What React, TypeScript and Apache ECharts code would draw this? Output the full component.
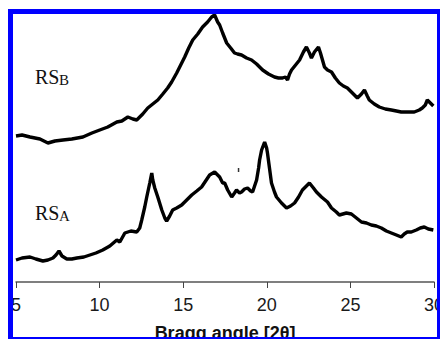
import React, { useEffect, useRef } from "react";
import * as echarts from "echarts";

// 2θ positions (degrees) and intensities (a.u.)
const angleB = [5.00,5.36,5.84,6.43,6.91,7.33,7.81,8.34,9.00,9.54,10.01,10.49,11.03,11.33,11.69,11.99,12.22,12.58,12.88,13.18,13.48,13.78,14.07,14.31,14.61,14.85,15.09,15.33,15.57,15.87,16.16,16.46,16.70,16.88,17.06,17.18,17.36,17.60,17.84,18.07,18.25,18.49,18.79,19.09,19.39,19.75,20.10,20.46,20.70,20.94,21.12,21.24,21.36,21.48,21.72,21.96,22.19,22.37,22.55,22.67,22.85,23.09,23.21,23.33,23.45,23.63,23.87,24.10,24.34,24.58,24.82,25.12,25.42,25.66,25.84,26.01,26.13,26.43,26.73,27.09,27.45,27.75,28.04,28.40,28.82,29.12,29.30,29.48,29.60,29.78,29.96];
const intensityB = [146,147,145,143,139,141,142,143,145,149,152,155,160,161,165,163,162,168,174,178,182,188,194,200,209,217,225,234,242,248,255,260,265,267,260,257,249,239,234,229,228,227,224,222,218,212,208,205,204,204,205,202,208,212,217,222,230,235,229,224,230,235,229,222,215,212,210,204,199,196,194,189,184,188,192,186,182,178,175,173,172,171,170,170,170,172,174,177,182,179,176];

const angleA = [5.00,5.36,5.84,6.19,6.61,6.91,7.21,7.39,7.57,7.75,8.04,8.34,8.64,9.06,9.42,9.78,10.19,10.61,11.03,11.21,11.51,11.87,12.22,12.40,12.52,12.70,12.82,13.00,13.12,13.18,13.30,13.48,13.72,13.90,14.01,14.19,14.37,14.61,14.91,15.21,15.51,15.81,16.10,16.34,16.58,16.88,17.06,17.18,17.36,17.48,17.66,17.90,18.07,18.19,18.37,18.49,18.67,18.85,19.03,19.15,19.27,19.39,19.51,19.57,19.69,19.87,19.99,20.04,20.16,20.28,20.46,20.58,20.88,21.18,21.42,21.66,21.90,22.13,22.37,22.55,22.79,22.97,23.27,23.63,23.87,24.16,24.34,24.76,25.06,25.36,25.66,25.96,26.25,26.55,26.85,27.15,27.45,27.75,28.04,28.22,28.40,28.64,28.94,29.18,29.42,29.66,29.96];
const intensityA = [22,24,25,23,21,22,24,27,31,26,23,23,24,25,27,29,32,36,42,40,49,51,50,54,62,75,85,99,109,102,94,85,72,64,61,66,72,74,77,82,87,91,95,101,107,110,107,105,99,99,92,85,89,92,89,90,93,94,91,90,96,102,114,122,132,140,134,129,114,99,90,85,79,74,76,79,85,92,96,99,94,90,85,80,74,70,67,69,68,64,60,59,57,56,54,51,49,47,45,48,50,50,52,54,55,53,52];

const strayMark = [[18.31, 112]];

const xTicks = { min: 5, max: 30, interval: 5 };
const curveLabels = ["RS", "B", "RS", "A"];
const axisTitle = "Bragg angle [2θ]";

export default function App() {
  const ref = useRef<HTMLDivElement>(null);
  useEffect(() => {
    if (!ref.current) return;
    const chart = echarts.init(ref.current, null, { renderer: "svg" });
    const lineStyle = { color: "#000", width: 3.4 };
    chart.setOption({
      animation: false,
      backgroundColor: "#fff",
      grid: { left: 16, right: 6, top: 10, bottom: 57, containLabel: false, outerBoundsMode: "none" },
      xAxis: {
        type: "value",
        min: xTicks.min,
        max: xTicks.max,
        interval: xTicks.interval,
        name: axisTitle,
        nameLocation: "middle",
        nameGap: 42,
        nameTextStyle: { fontFamily: "Liberation Sans", fontSize: 18, fontWeight: "bold", color: "#111" },
        axisLine: { show: true, lineStyle: { color: "#555", width: 1.5 } },
        axisTick: { show: true, inside: false, length: 6, lineStyle: { color: "#444", width: 1 } },
        axisLabel: { fontFamily: "Liberation Sans", fontSize: 18, color: "#1a1a1a", margin: 14, showMinLabel: true, showMaxLabel: true },
        splitLine: { show: false },
      },
      yAxis: { type: "value", min: 0, max: 272, show: false, splitLine: { show: false } },
      series: [
        { type: "line", data: angleB.map((a, i) => [a, intensityB[i]]), showSymbol: false, symbol: "none", lineStyle, clip: false },
        { type: "line", data: angleA.map((a, i) => [a, intensityA[i]]), showSymbol: false, symbol: "none", lineStyle, clip: false },
        { type: "scatter", data: strayMark, symbol: "rect", symbolSize: [1.5, 4], itemStyle: { color: "#000" } },
      ],
      graphic: [
        { type: "text", left: 35, top: 67, z: 10, style: { text: curveLabels[0], font: "20px 'Liberation Serif'", fill: "#111" } },
        { type: "text", left: 59, top: 72, z: 10, style: { text: curveLabels[1], font: "15px 'Liberation Serif'", fill: "#111" } },
        { type: "text", left: 35, top: 203, z: 10, style: { text: curveLabels[2], font: "20px 'Liberation Serif'", fill: "#111" } },
        { type: "text", left: 59, top: 208, z: 10, style: { text: curveLabels[3], font: "15px 'Liberation Serif'", fill: "#111" } },
        { type: "rect", z: 100, silent: true, shape: { x: 10.5, y: 11.5, width: 429, height: 328 }, style: { fill: "none", stroke: "#0000ff", lineWidth: 5 } },
      ],
    });
    return () => chart.dispose();
  }, []);
  return <div ref={ref} style={{ position: "fixed", left: 0, top: 0, width: 440, height: 339 }} />;
}
